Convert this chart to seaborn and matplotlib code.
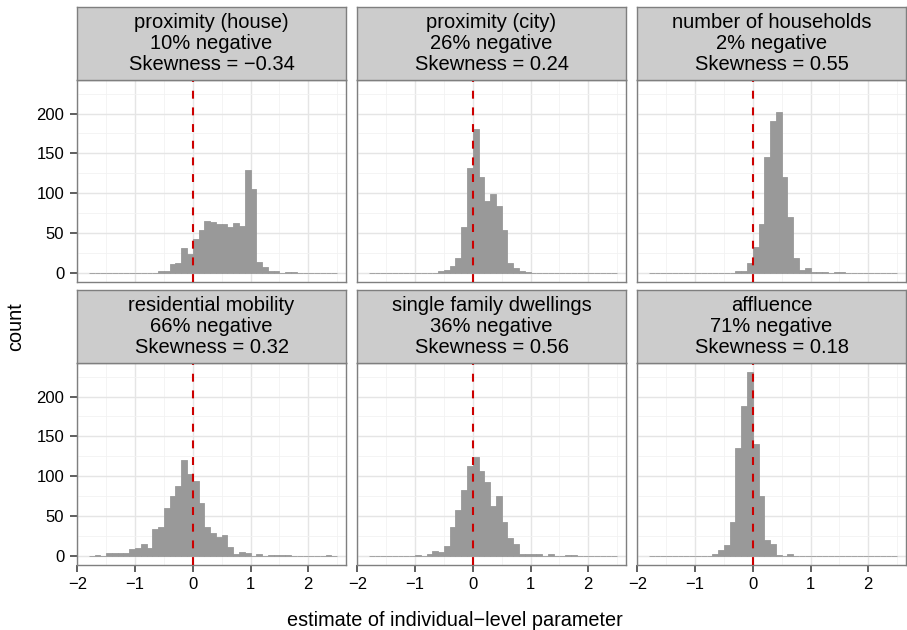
import numpy as np
import pandas as pd
import matplotlib
matplotlib.use("Agg")
import matplotlib.pyplot as plt
import seaborn as sns

# ---------------- data ----------------
bin_start = -1.8
bin_stop = 2.5
n_bins = 43

panel_names = ["proximity (house)", "proximity (city)", "number of households",
               "residential mobility", "single family dwellings", "affluence"]
neg_pct = [10, 26, 2, 66, 36, 71]
skewness = ["\u22120.34", "0.24", "0.55", "0.32", "0.56", "0.18"]

counts_house = [0, 0, 0, 0, 0, 0, 0, 0, 0, 0, 0, 0,
                2, 2, 11, 12, 31, 23, 42, 54, 65, 64, 61, 61, 57, 62, 59, 129, 105, 14, 7, 2, 2, 0, 1, 1,
                0, 0, 0, 0, 0, 0, 0]
counts_city = [0, 0, 0, 0, 0, 0, 0, 0, 0, 0, 0, 0,
               2, 4, 8, 18, 58, 131, 180, 120, 90, 99, 84, 54, 12, 6, 2, 1,
               0, 0, 0, 0, 0, 0, 0, 0, 0, 0, 0, 0, 0, 0, 0]
counts_households = [0, 0, 0, 0, 0, 0, 0, 0, 0, 0, 0, 0, 0, 0, 0,
                     2, 2, 12, 32, 61, 145, 190, 202, 120, 70, 18, 4, 6, 1, 1, 1, 0, 1, 1,
                     0, 0, 0, 0, 0, 0, 0, 0, 0]
counts_mobility = [0, 1, 0, 3, 3, 3, 3, 8, 10, 15, 10, 33, 36, 60, 75, 88, 120, 103, 94, 66, 36, 28,
                   23, 26, 11, 2, 5, 3, 0, 2, 0, 1, 1, 1, 1, 0, 0, 0, 0, 0, 0, 1, 0]
counts_single = [0, 0, 0, 0, 0, 0, 0, 0,
                 1, 0, 2, 6, 5, 12, 36, 57, 83, 113, 124, 107, 93, 63, 75, 43, 22, 15, 2, 2, 2, 2, 0, 2,
                 0, 0, 1, 1,
                 0, 0, 0, 0, 0, 0, 0]
counts_affluence = [0, 0, 0, 0, 0, 0, 0, 0, 0, 0, 0,
                    2, 7, 13, 43, 135, 188, 231, 141, 75, 20, 15, 1, 0, 2,
                    0, 0, 0, 0, 0, 0, 0, 0, 0, 0, 0, 0, 0, 0, 0, 0, 0, 0]

all_counts = [counts_house, counts_city, counts_households,
              counts_mobility, counts_single, counts_affluence]

x_ticks = [-2, -1, 0, 1, 2]
y_ticks = [0, 50, 100, 150, 200]

edges = np.linspace(bin_start, bin_stop, n_bins + 1)
centers = (edges[:-1] + edges[1:]) / 2

rows = []
for name, cnts in zip(panel_names, all_counts):
    for c, w in zip(centers, cnts):
        rows.append({"panel": name, "estimate": c, "count": w})
df = pd.DataFrame(rows)

# ---------------- style ----------------
sns.set_style("white")
plt.rcParams["font.family"] = ["Liberation Sans", "DejaVu Sans"]
plt.rcParams["axes.unicode_minus"] = True
plt.rcParams["text.color"] = "black"

W, H = 907, 630
fig = plt.figure(figsize=(W / 100, H / 100), dpi=100)

col_left = [76.7, 356.7, 636.7]
pw = 269.7
ph = 202.2
row_top = [79.7, 362.7]
strip_h = 72.7

border = "#7F7F7F"
bar_color = "#999999"

def fig_rect(left, top, width, height):
    return [left / W, 1 - (top + height) / H, width / W, height / H]

for i, name in enumerate(panel_names):
    r, c = divmod(i, 3)
    ax = fig.add_axes(fig_rect(col_left[c], row_top[r], pw, ph))
    sub = df[df["panel"] == name]
    sns.histplot(data=sub, x="estimate", weights="count", bins=n_bins,
                 binrange=(bin_start, bin_stop), ax=ax,
                 color=bar_color, edgecolor=bar_color, linewidth=0.6, alpha=1.0,
                 zorder=2)
    ax.axvline(0, color="#CC0000", lw=1.5, linestyle=(0, (3.8, 4.2)), zorder=3)
    ax.set_xlim(-2.01, 2.66)
    ax.set_ylim(-11.5, 242.5)
    ax.set_xticks(x_ticks)
    ax.set_yticks(y_ticks)
    ax.set_xticks([-1.5, -0.5, 0.5, 1.5, 2.5], minor=True)
    ax.set_yticks([25, 75, 125, 175, 225], minor=True)
    ax.grid(True, which="major", color="#E5E5E5", lw=1.0, zorder=0)
    ax.grid(True, which="minor", color="#F2F2F2", lw=0.6, zorder=0)
    ax.set_axisbelow(True)
    ax.set_facecolor("white")
    for s in ax.spines.values():
        s.set_visible(True)
        s.set_color(border)
        s.set_linewidth(1.0)
    ax.set_xlabel("")
    ax.set_ylabel("")
    ax.tick_params(which="minor", length=0)
    ax.tick_params(which="major", direction="out", length=5, width=1.1,
                   color="#333333", labelsize=12, labelcolor="black")
    ax.tick_params(axis="y", pad=4)
    ax.tick_params(axis="x", pad=4)
    if c != 0:
        ax.tick_params(axis="y", left=False, labelleft=False)
    else:
        ax.tick_params(axis="y", left=True, labelleft=True)
    if r != 1:
        ax.tick_params(axis="x", bottom=False, labelbottom=False)
    else:
        ax.tick_params(axis="x", bottom=True, labelbottom=True)

    # strip
    sax = fig.add_axes(fig_rect(col_left[c], row_top[r] - strip_h, pw, strip_h))
    sax.set_facecolor("#CCCCCC")
    sax.set_xticks([])
    sax.set_yticks([])
    for s in sax.spines.values():
        s.set_visible(True)
        s.set_color(border)
        s.set_linewidth(1.0)
    label = f"{name}\n{neg_pct[i]}% negative\nSkewness = {skewness[i]}"
    sax.text(0.5, 0.5, label, ha="center", va="center", fontsize=14.5,
             linespacing=1.13, color="black", transform=sax.transAxes)

fig.text(455 / W, 1 - 620 / H, "estimate of individual\u2212level parameter",
         ha="center", va="center", fontsize=14.3, color="black")
fig.text(15.5 / W, 1 - 327 / H, "count", ha="center", va="center",
         rotation=90, fontsize=14.3, color="black")

fig.savefig("out.png", dpi=100)
